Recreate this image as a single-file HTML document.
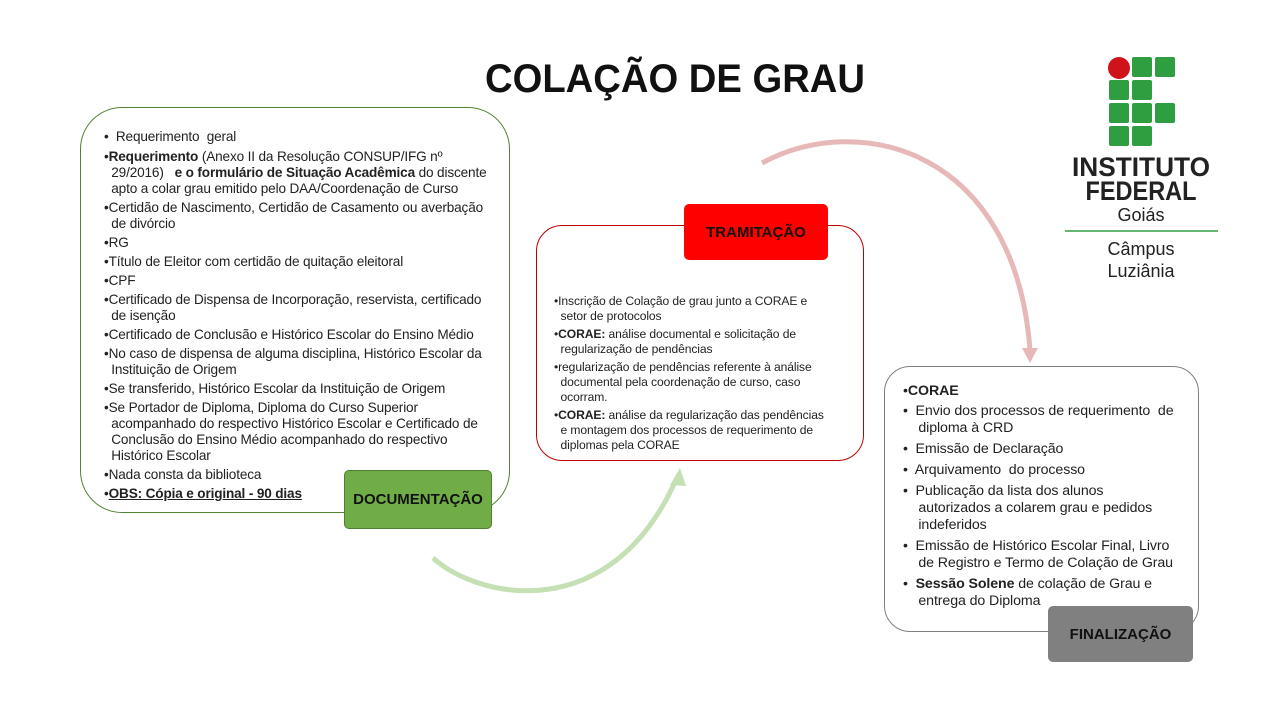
<!DOCTYPE html>
<html><head><meta charset="utf-8"><style>
body{margin:0;width:1280px;height:720px;background:#fff;position:relative;overflow:hidden;font-family:"Liberation Sans",sans-serif;color:#222}
.a{position:absolute}
.box{position:absolute;background:#fff}
.t p{margin:0;white-space:nowrap}
.lbl{position:absolute;display:flex;align-items:center;justify-content:center;font-weight:bold;color:#111;border-radius:5px}
</style></head><body>
<svg class="a" style="left:0;top:0" width="1280" height="720">
<text x="485" y="92" font-family="Liberation Sans" font-weight="bold" font-size="40" textLength="380" lengthAdjust="spacingAndGlyphs" fill="#111">COLAÇÃO DE GRAU</text>
<path d="M433,558 C480,600 610,625 675,482" fill="none" stroke="#C5E0B4" stroke-width="5"/>
<polygon points="680,468 670,485 686,486" fill="#C5E0B4"/>
<path d="M762,163 C860,110 1015,150 1030,350" fill="none" stroke="#E6B9B8" stroke-width="5"/>
<polygon points="1030,363 1022,348 1038,348" fill="#E6B9B8"/>
<circle cx="1119" cy="68" r="11" fill="#D0121B"/>
<g fill="#2F9E41">
<rect x="1132" y="57" width="20" height="20" rx="2"/><rect x="1155" y="57" width="20" height="20" rx="2"/>
<rect x="1109" y="80" width="20" height="20" rx="2"/><rect x="1132" y="80" width="20" height="20" rx="2"/>
<rect x="1109" y="103" width="20" height="20" rx="2"/><rect x="1132" y="103" width="20" height="20" rx="2"/><rect x="1155" y="103" width="20" height="20" rx="2"/>
<rect x="1109" y="126" width="20" height="20" rx="2"/><rect x="1132" y="126" width="20" height="20" rx="2"/>
</g>
<text x="1141" y="176" text-anchor="middle" font-family="Liberation Sans" font-weight="bold" font-size="27" textLength="138" lengthAdjust="spacingAndGlyphs" fill="#222">INSTITUTO</text>
<text x="1141" y="200" text-anchor="middle" font-family="Liberation Sans" font-weight="bold" font-size="27" textLength="111" lengthAdjust="spacingAndGlyphs" fill="#222">FEDERAL</text>
<text x="1141" y="221" text-anchor="middle" font-family="Liberation Sans" font-size="18" fill="#222">Goiás</text>
<line x1="1065" y1="231" x2="1218" y2="231" stroke="#2F9E41" stroke-width="1.5"/>
<text x="1141" y="255" text-anchor="middle" font-family="Liberation Sans" font-size="18" fill="#222">Câmpus</text>
<text x="1141" y="277" text-anchor="middle" font-family="Liberation Sans" font-size="18" fill="#222">Luziânia</text>
</svg>

<div class="box" style="left:80px;top:107px;width:428px;height:404px;border:1.3px solid #548235;border-radius:42px"></div>
<div class="a t" style="left:104px;top:129px;font-size:13.6px;line-height:16px;letter-spacing:-0.15px">
<p style="margin-bottom:4px">•&nbsp; Requerimento&nbsp; geral</p>
<p style="margin-bottom:3px">•<b>Requerimento</b> (Anexo II da Resolução CONSUP/IFG nº<br>&nbsp; 29/2016)&nbsp;&nbsp; <b>e o formulário de Situação Acadêmica</b> do discente<br>&nbsp; apto a colar grau emitido pelo DAA/Coordenação de Curso</p>
<p style="margin-bottom:3px">•Certidão de Nascimento, Certidão de Casamento ou averbação<br>&nbsp; de divórcio</p>
<p style="margin-bottom:3px">•RG</p>
<p style="margin-bottom:3px">•Título de Eleitor com certidão de quitação eleitoral</p>
<p style="margin-bottom:3px">•CPF</p>
<p style="margin-bottom:3px">•Certificado de Dispensa de Incorporação, reservista, certificado<br>&nbsp; de isenção</p>
<p style="margin-bottom:3px">•Certificado de Conclusão e Histórico Escolar do Ensino Médio</p>
<p style="margin-bottom:3px">•No caso de dispensa de alguma disciplina, Histórico Escolar da<br>&nbsp; Instituição de Origem</p>
<p style="margin-bottom:3px">•Se transferido, Histórico Escolar da Instituição de Origem</p>
<p style="margin-bottom:3px">•Se Portador de Diploma, Diploma do Curso Superior<br>&nbsp; acompanhado do respectivo Histórico Escolar e Certificado de<br>&nbsp; Conclusão do Ensino Médio acompanhado do respectivo<br>&nbsp; Histórico Escolar</p>
<p style="margin-bottom:3px">•Nada consta da biblioteca</p>
<p>•<b><u>OBS: Cópia e original - 90 dias</u></b></p>
</div>
<div class="lbl" style="left:344px;top:470px;width:146px;height:57px;background:#70AD47;border:1px solid #507E32;font-size:15px">DOCUMENTAÇÃO</div>

<div class="box" style="left:536px;top:225px;width:326px;height:234px;border:1.3px solid #C00000;border-radius:26px"></div>
<div class="lbl" style="left:684px;top:204px;width:144px;height:56px;background:#FF0000;font-size:15px">TRAMITAÇÃO</div>
<div class="a t" style="left:554px;top:294px;font-size:12.1px;line-height:15px;letter-spacing:-0.1px">
<p style="margin-bottom:3px">•Inscrição de Colação de grau junto a CORAE e<br>&nbsp; setor de protocolos</p>
<p style="margin-bottom:3px">•<b>CORAE:</b> análise documental e solicitação de<br>&nbsp; regularização de pendências</p>
<p style="margin-bottom:3px">•regularização de pendências referente à análise<br>&nbsp; documental pela coordenação de curso, caso<br>&nbsp; ocorram.</p>
<p>•<b>CORAE:</b> análise da regularização das pendências<br>&nbsp; e montagem dos processos de requerimento de<br>&nbsp; diplomas pela CORAE</p>
</div>

<div class="box" style="left:884px;top:366px;width:313px;height:264px;border:1.2px solid #7F7F7F;border-radius:26px"></div>
<div class="a t" style="left:903px;top:383px;font-size:14.2px;line-height:17px;letter-spacing:-0.1px">
<p style="margin-bottom:3px">•<b>CORAE</b></p>
<p style="margin-bottom:4px">•&nbsp; Envio dos processos de requerimento&nbsp; de<br>&nbsp;&nbsp;&nbsp; diploma à CRD</p>
<p style="margin-bottom:4px">•&nbsp; Emissão de Declaração</p>
<p style="margin-bottom:4px">•&nbsp; Arquivamento&nbsp; do processo</p>
<p style="margin-bottom:4px">•&nbsp; Publicação da lista dos alunos<br>&nbsp;&nbsp;&nbsp; autorizados a colarem grau e pedidos<br>&nbsp;&nbsp;&nbsp; indeferidos</p>
<p style="margin-bottom:4px">•&nbsp; Emissão de Histórico Escolar Final, Livro<br>&nbsp;&nbsp;&nbsp; de Registro e Termo de Colação de Grau</p>
<p>•&nbsp; <b>Sessão Solene</b> de colação de Grau e<br>&nbsp;&nbsp;&nbsp; entrega do Diploma</p>
</div>
<div class="lbl" style="left:1048px;top:606px;width:145px;height:56px;background:#808080;font-size:15px">FINALIZAÇÃO</div>
</body></html>
